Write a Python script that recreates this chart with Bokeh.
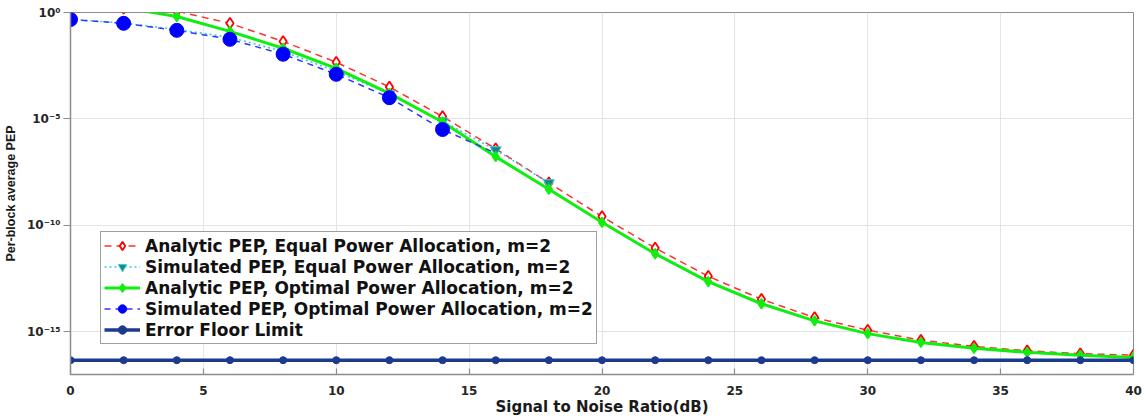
from bokeh.plotting import figure
from bokeh.models import Range1d, FixedTicker, CustomJSTickFormatter, Legend, LegendItem
from bokeh.embed import file_html
from bokeh.resources import INLINE

# ---------------- data ----------------
snr = [0, 2, 4, 6, 8, 10, 12, 14, 16, 18, 20, 22, 24, 26, 28, 30, 32, 34, 36, 38, 40]

pep_eq_analytic = [2.2e0, 1.6e0, 1.15e0, 3.1e-1, 4.4e-2, 4.6e-3, 3.2e-4, 1.3e-5, 4.0e-7, 1.0e-8,
                   2.6e-10, 8.7e-12, 4.1e-13, 3.4e-14, 4.7e-15, 1.2e-15, 4.1e-16, 2.1e-16,
                   1.3e-16, 9.5e-17, 8.1e-17]

snr_sim_eq = [0, 2, 4, 6, 8, 10, 12, 14, 16, 18]
pep_eq_sim = [4.8e-1, 3.2e-1, 1.6e-1, 6.8e-2, 1.5e-2, 1.7e-3, 1.5e-4, 7.9e-6, 3.5e-7, 1.0e-8]

pep_opt_analytic = [4.0e0, 1.7e0, 6.5e-1, 1.3e-1, 2.1e-2, 2.4e-3, 1.6e-4, 7.2e-6, 1.7e-7, 5.0e-9,
                    1.4e-10, 4.7e-12, 2.3e-13, 2.1e-14, 3.3e-15, 8.3e-16, 3.2e-16, 1.7e-16,
                    1.1e-16, 8.1e-17, 6.3e-17]

snr_sim_opt = [0, 2, 4, 6, 8, 10, 12, 14, 16]
pep_opt_sim = [4.7e-1, 3.1e-1, 1.45e-1, 5.5e-2, 1.1e-2, 1.25e-3, 1.0e-4, 3.2e-6, 2.5e-7]

pep_floor = [4.7e-17, 4.7e-17, 4.7e-17, 4.7e-17, 4.7e-17, 4.7e-17, 4.7e-17, 4.7e-17, 4.7e-17,
             4.7e-17, 4.7e-17, 4.7e-17, 4.7e-17, 4.7e-17, 4.7e-17, 4.7e-17, 4.7e-17, 4.7e-17,
             4.7e-17, 4.7e-17, 4.7e-17]

series_labels = [
    "Analytic PEP, Equal Power Allocation, m=2",
    "Simulated PEP, Equal Power Allocation, m=2",
    "Analytic PEP, Optimal Power Allocation, m=2",
    "Simulated PEP, Optimal Power Allocation, m=2",
    "Error Floor Limit",
]

x_ticks = [0, 5, 10, 15, 20, 25, 30, 35, 40]
y_ticks = [1e-15, 1e-10, 1e-5, 1.0]
y_tick_labels = ["10\u207b\u00b9\u2075", "10\u207b\u00b9\u2070", "10\u207b\u2075", "10\u2070"]

x_title = "Signal to Noise Ratio(dB)"
y_title = "Per-block average PEP"

# ---------------- figure ----------------
p = figure(width=1144, height=418,
           x_range=Range1d(0, 40), y_range=Range1d(1e-17, 1.0),
           y_axis_type="log",
           output_backend="svg", toolbar_location=None,
           min_border_left=70, min_border_right=11, min_border_top=12, min_border_bottom=42)

p.background_fill_color = "white"
p.border_fill_color = "white"
p.outline_line_color = "#8c8c8c"
p.outline_line_width = 1

# axes
p.xaxis.ticker = FixedTicker(ticks=x_ticks, minor_ticks=[])
p.yaxis.ticker = FixedTicker(ticks=y_ticks, minor_ticks=[])
p.yaxis.formatter = CustomJSTickFormatter(
    args=dict(tick_vals=y_ticks, tick_texts=y_tick_labels),
    code="""
    for (let i = 0; i < tick_vals.length; i++) {
        if (Math.abs(Math.log10(tick_vals[i]) - Math.log10(tick)) < 1e-6) return tick_texts[i];
    }
    return '';
    """)

for ax in (p.xaxis[0], p.yaxis[0]):
    ax.axis_line_color = "#8c8c8c"
    ax.axis_line_width = 1.5
    ax.major_tick_line_color = "#8c8c8c"
    ax.major_tick_line_width = 1.2
    ax.minor_tick_line_color = None
    ax.major_label_text_font = "DejaVu Sans"
    ax.major_label_text_font_style = "bold"
    ax.major_label_text_font_size = "12px"
    ax.major_label_text_color = "#262626"
    ax.axis_label_text_color = "#1a1a1a"
    ax.axis_label_text_font_style = "bold"

p.xaxis.major_tick_in = 6
p.xaxis.major_tick_out = 0
p.xaxis.major_label_standoff = 11
p.xaxis.axis_label = x_title
p.xaxis.axis_label_text_font = "DejaVu Sans"
p.xaxis.axis_label_text_font_size = "15px"
p.xaxis.axis_label_standoff = 0

p.yaxis.major_tick_in = 0
p.yaxis.major_tick_out = 7
p.yaxis.major_label_standoff = 3
p.yaxis.axis_label = y_title
p.yaxis.axis_label_text_font = "Liberation Sans"
p.yaxis.axis_label_text_font_size = "12.5px"
p.yaxis.axis_label_standoff = 6

p.xgrid.ticker = FixedTicker(ticks=x_ticks, minor_ticks=[])
p.ygrid.ticker = FixedTicker(ticks=y_ticks, minor_ticks=[])
p.xgrid.grid_line_color = "#e3e3e3"
p.ygrid.grid_line_color = "#e3e3e3"
p.xgrid.grid_line_width = 1
p.ygrid.grid_line_width = 1

# ---------------- series ----------------
r1l = p.line(snr, pep_eq_analytic, line_color="#ff3030", line_width=1.5, line_dash="7 5")
r1s = p.scatter(snr, pep_eq_analytic, marker="diamond", size=11, fill_color="white",
                line_color="#ff0000", line_width=1.8)

r2l = p.line(snr_sim_eq, pep_eq_sim, line_color="#33cce0", line_width=1.6, line_dash="2 3")
r2s = p.scatter(snr_sim_eq, pep_eq_sim, marker="inverted_triangle", size=11,
                fill_color="#138a80", line_color="#33cce0", line_width=1)

r3l = p.line(snr, pep_opt_analytic, line_color="#10ee10", line_width=3)
r3s = p.scatter(snr, pep_opt_analytic, marker="diamond", size=10,
                fill_color="#10ee10", line_color="#10ee10", line_width=1.5)

r4l = p.line(snr_sim_opt, pep_opt_sim, line_color="#3333ff", line_width=1.5, line_dash="6 5")
r4s = p.scatter(snr_sim_opt[:8], pep_opt_sim[:8], marker="circle", size=14,
                fill_color="#0000ff", line_color="#0000ff")

r5l = p.line(snr, pep_floor, line_color="#1c3a8e", line_width=3.5)
r5s = p.scatter(snr, pep_floor, marker="circle", size=7,
                fill_color="#1c3a8e", line_color="#1c3a8e")

legend = Legend(items=[
    LegendItem(label=series_labels[0], renderers=[r1l, r1s]),
    LegendItem(label=series_labels[1], renderers=[r2l, r2s]),
    LegendItem(label=series_labels[2], renderers=[r3l, r3s]),
    LegendItem(label=series_labels[3], renderers=[r4l, r4s]),
    LegendItem(label=series_labels[4], renderers=[r5l, r5s]),
], location=(30, 30))
legend.label_text_font = "DejaVu Sans"
legend.label_text_font_style = "bold"
legend.label_text_font_size = "17px"
legend.label_text_color = "#111111"
legend.label_height = 21
legend.glyph_height = 21
legend.glyph_width = 36
legend.label_standoff = 5
legend.spacing = 0
legend.padding = 3
legend.margin = 0
legend.border_line_color = "#404040"
legend.border_line_width = 1
legend.background_fill_color = "white"
legend.background_fill_alpha = 1.0
p.add_layout(legend)

open("out.html", "w").write(file_html(p, INLINE))
